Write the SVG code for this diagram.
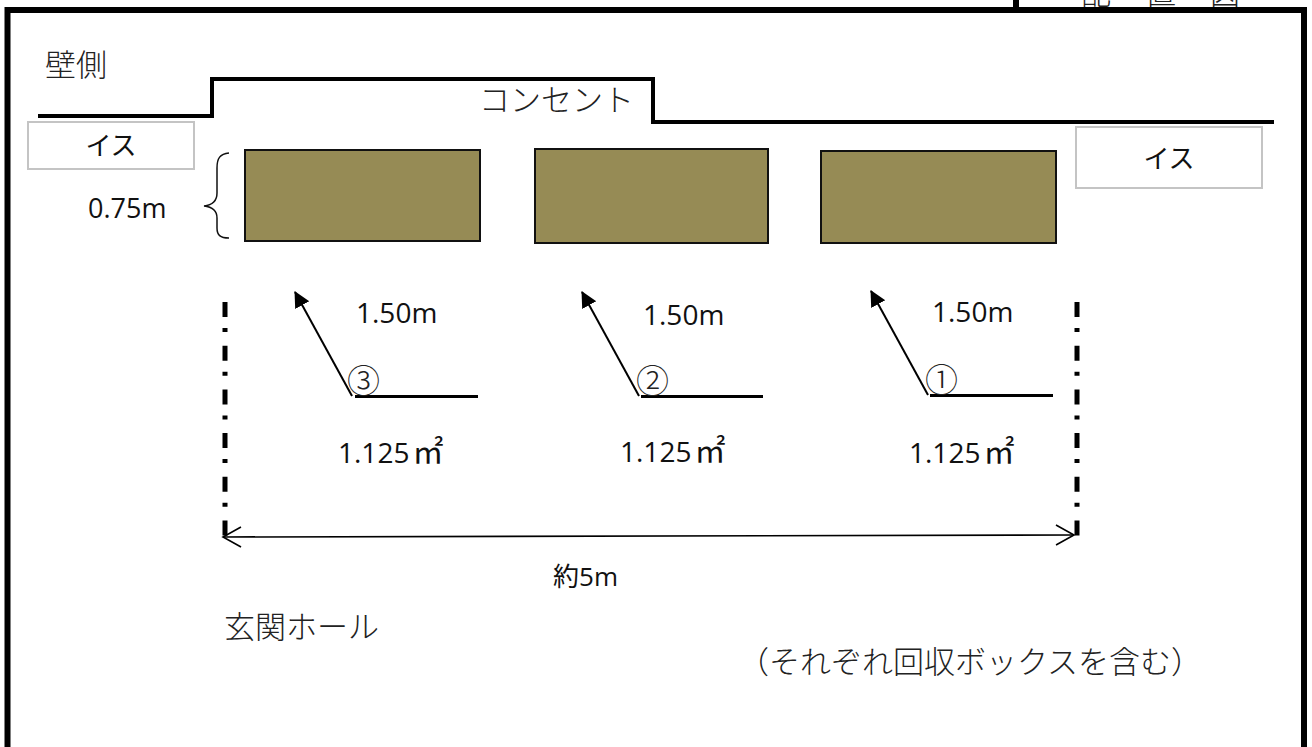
<svg xmlns="http://www.w3.org/2000/svg" width="1312" height="747" viewBox="0 0 1312 747">
<defs>
<marker id="tri" markerUnits="userSpaceOnUse" markerWidth="20" markerHeight="20" refX="15" refY="8" orient="auto"><path d="M0 0L16 8L0 16Z" fill="#000"/></marker>
<marker id="open" markerUnits="userSpaceOnUse" markerWidth="24" markerHeight="24" refX="19" refY="11" orient="auto-start-reverse"><path d="M1 1L19 11L1 21" fill="none" stroke="#000" stroke-width="1.6"/></marker>
</defs>
<style>
text{fill:#111}
.jp{font-family:"Noto Sans CJK JP",sans-serif;font-weight:300;font-size:31px;fill:#222}
.c{font-family:"Noto Sans CJK JP",sans-serif;font-weight:300;font-size:33px;fill:#222}
.m{font-family:"Open Sans","Noto Sans",sans-serif;font-size:28px}
.sq{font-family:"Noto Sans CJK JP",sans-serif;font-size:31px}
.g{font-family:"Noto Sans CJK JP",sans-serif;font-size:26px}
.chair{fill:#fff;stroke:#c4c4c4;stroke-width:2}
.table{fill:#968b55;stroke:#111;stroke-width:2}
.wall{fill:none;stroke:#000;stroke-width:4;stroke-linejoin:miter}
.dd{fill:none;stroke:#000;stroke-width:5;stroke-dasharray:15 11 4 13.7}
.dia{stroke:#000;stroke-width:2;marker-end:url(#tri)}
.base{stroke:#000;stroke-width:3}
</style>
<rect width="1312" height="747" fill="#fff"/>
<g id="frame"><path d="M7.500 747V10H1304V747" fill="none" stroke="#000" stroke-width="6"/><path d="M1016 0V10" stroke="#000" stroke-width="6"/></g>
<g id="title"><text class="jp" x="1081" y="4" style="font-size:30px">配</text><text class="jp" x="1146" y="4" style="font-size:30px">置</text><text class="jp" x="1210" y="4" style="font-size:30px">図</text></g>
<g id="wall"><path class="wall" d="M38 116H212V79H653V122H1274"/></g>
<text class="jp" x="45" y="76">壁側</text>
<text class="jp" x="479" y="111">コンセント</text>
<g id="chair-left"><rect class="chair" x="28" y="122" width="166" height="47"/><text class="g" x="111" y="155" text-anchor="middle">イス</text></g>
<g id="chair-right"><rect class="chair" x="1076" y="127" width="186" height="61"/><text class="g" x="1169" y="168" text-anchor="middle">イス</text></g>
<g id="table-3"><rect class="table" x="245" y="150" width="235" height="91"/></g>
<g id="table-2"><rect class="table" x="535" y="149" width="233" height="94"/></g>
<g id="table-1"><rect class="table" x="821" y="151" width="235" height="92"/></g>
<g id="brace"><path d="M229 153C220 154 217 158 217 168V193C217 201 213 205 204 206C213 207 217 211 217 218V228C217 235 220 238 229 238" fill="none" stroke="#111" stroke-width="1.5"/><text class="m" x="88" y="218" style="font-size:27px">0.75m</text></g>
<g id="connectors">
<path class="dia" d="M352 396L295 292"/><path class="base" d="M355 396.500H478"/>
<path class="dia" d="M639 396L582 292"/><path class="base" d="M641 396.500H763"/>
<path class="dia" d="M928 395L871 291"/><path class="base" d="M930 395.500H1053"/>
<path class="dd" d="M225 302V538"/>
<path class="dd" d="M1077 302V538"/>
<path d="M223 537L1074 535" stroke="#000" stroke-width="1.6" fill="none" marker-start="url(#open)" marker-end="url(#open)"/>
</g>
<g id="labels">
<text class="m" x="356" y="323">1.50m</text><text class="m" x="643" y="325">1.50m</text><text class="m" x="932" y="322">1.50m</text>
<text class="c" x="347" y="393">③</text><text class="c" x="636" y="393">②</text><text class="c" x="925" y="392">①</text>
<text class="m" x="338" y="463">1.125<tspan class="sq" dx="3">㎡</tspan></text><text class="m" x="620" y="462">1.125<tspan class="sq" dx="3">㎡</tspan></text><text class="m" x="909" y="463">1.125<tspan class="sq" dx="3">㎡</tspan></text>
<text class="g" x="553" y="586">約<tspan class="m" style="font-size:26px">5m</tspan></text>
<text class="jp" x="224" y="638">玄関ホール</text>
<text class="jp" x="738" y="673">（それぞれ回収ボックスを含む）</text>
</g>
</svg>
